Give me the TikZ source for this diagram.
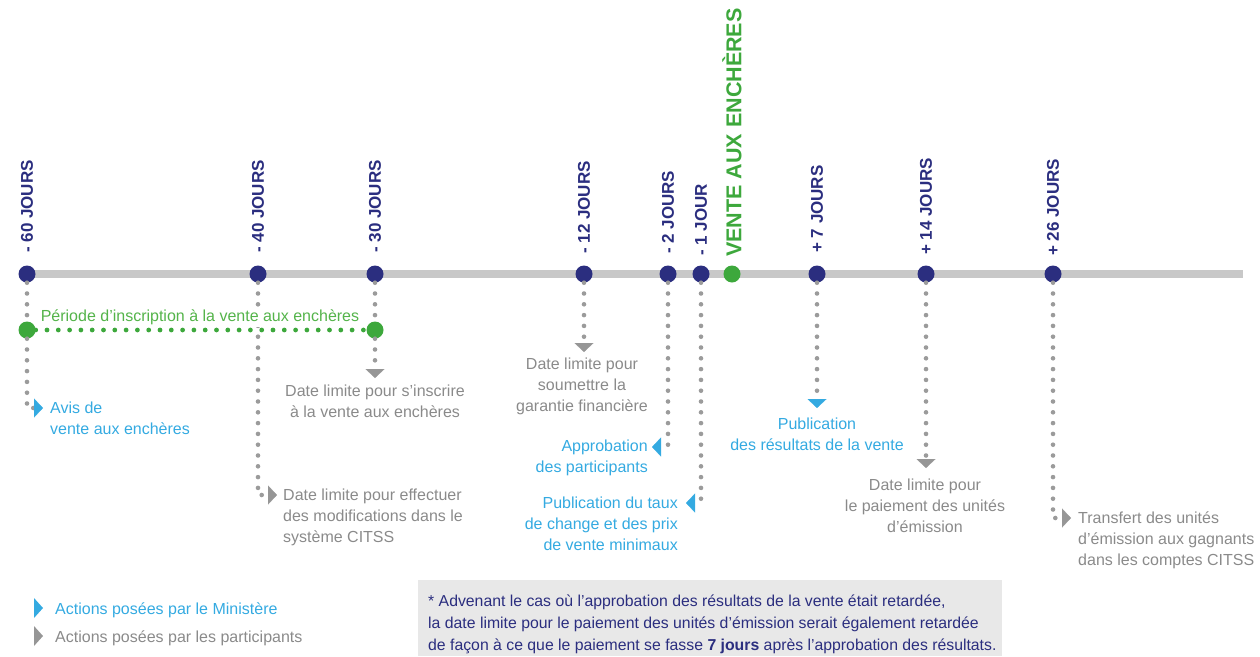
\documentclass[tikz,border=0pt]{standalone}
\usepackage{fontspec}
\setmainfont{Liberation Sans}
\usetikzlibrary{arrows.meta}
\definecolor{navy}{RGB}{43,46,127}
\definecolor{vgreen}{RGB}{61,168,60}
\definecolor{lgreen}{RGB}{84,180,74}
\definecolor{lblue}{RGB}{52,170,225}
\definecolor{tgray}{RGB}{138,138,138}
\definecolor{agray}{RGB}{150,150,150}
\definecolor{dgray}{RGB}{155,155,155}
\definecolor{lgray}{RGB}{200,200,200}
\definecolor{boxgray}{RGB}{232,232,232}
\newcommand{\bodyfs}{\fontsize{16}{21}\selectfont}
\newcommand{\notefs}{\fontsize{15.8}{22}\selectfont}
\newcommand{\dayfs}{\fontsize{17}{20}\selectfont\bfseries}
\newcommand{\ventefs}{\fontsize{21.5}{24}\selectfont\bfseries}
\begin{document}
\begin{tikzpicture}[x=1pt,y=-1pt,
  evdot/.style={circle,fill=navy,minimum size=17pt,inner sep=0pt},
  grdot/.style={circle,fill=vgreen,minimum size=17pt,inner sep=0pt},
  daylab/.style={rotate=90,anchor=west,inner sep=0pt,font=\dayfs,text=navy},
  gdots/.style={draw=dgray,line width=4.6pt,line cap=round,dash pattern=on 0pt off 10.8pt},
  grline/.style={draw=vgreen,line width=4.8pt,line cap=round,dash pattern=on 0pt off 11.3pt},
  tipG/.style={-{Triangle[length=9pt,width=19pt,line width=0.1pt,color=agray]}},
  tipB/.style={-{Triangle[length=9pt,width=19pt,line width=0.1pt,color=lblue]}},
  txt/.style={font=\bodyfs,inner sep=0pt},
  bluetxt/.style={txt,text=lblue},
  graytxt/.style={txt,text=tgray}
]
\useasboundingbox (0,0) rectangle (1260,656);

% timeline
\coordinate (tlA) at (20,274);
\coordinate (tlB) at (1243,274);
\draw[line width=8pt,lgray] (tlA) -- (tlB);

% event dots
\node[evdot] (d60) at (27,274) {};
\node[evdot] (d40) at (258,274) {};
\node[evdot] (d30) at (375,274) {};
\node[evdot] (d12) at (584,274) {};
\node[evdot] (d2) at (668,274) {};
\node[evdot] (d1) at (701,274) {};
\node[grdot] (dV) at (732,274) {};
\node[evdot] (d7) at (817,274) {};
\node[evdot] (d14) at (926,274) {};
\node[evdot] (d26) at (1053,274) {};

% day labels
\node[daylab] (l60) at (27,253) {- 60 JOURS};
\node[daylab] (l40) at (258,253) {- 40 JOURS};
\node[daylab] (l30) at (375,253) {- 30 JOURS};
\node[daylab] (l12) at (584,254) {- 12 JOURS};
\node[daylab] (l2) at (668,254) {- 2 JOURS};
\node[daylab] (l1) at (701,256) {- 1 JOUR};
\node[daylab,font=\ventefs,text=vgreen] (lV) at (732,257) {VENTE AUX ENCHÈRES};
\node[daylab] (l7) at (817,253) {+ 7 JOURS};
\node[daylab] (l14) at (926,255) {+ 14 JOURS};
\node[daylab] (l26) at (1053,256) {+ 26 JOURS};

% registration period dots
\node[grdot] (g60) at (27,330) {};
\node[grdot] (g30) at (375,330) {};

% arrow end points
\coordinate (e60) at (43,408);
\coordinate (e40) at (277,495);
\coordinate (e30) at (375,378);
\coordinate (e12) at (584,352);
\coordinate (e2) at (652,447);
\coordinate (e1) at (686,503);
\coordinate (e7) at (817,408);
\coordinate (e14) at (926,468);
\coordinate (e26) at (1071,518);

% connectors
\draw[gdots] (d60) -- (g60);
\draw[gdots,tipB] (g60) |- (e60);
\draw[gdots,tipG] (d40) |- (e40);
\draw[gdots] (d30) -- (g30);
\draw[gdots,tipG] (g30) -- (e30);
\draw[gdots,tipG] (d12) -- (e12);
\draw[gdots,tipB] (d2) |- (e2);
\draw[gdots,tipB] (d1) |- (e1);
\draw[gdots,tipB] (d7) -- (e7);
\draw[gdots,tipG] (d14) -- (e14);
\draw[gdots,tipG] (d26) |- (e26);

% registration period line and label (over the -40 connector)
\draw[grline] (g60) -- (g30);
\node[txt,text=lgreen,anchor=base,fill=white,inner ysep=2pt] (period) at (200,321.5) {Période d'inscription à la vente aux enchères};

% texts
\node[bluetxt,align=left,anchor=north west] (t60) at (50,402) {Avis de\\vente aux enchères};
\node[graytxt,align=left,anchor=north west] (t40) at (283,489) {Date limite pour effectuer\\des modifications dans le\\système CITSS};
\node[graytxt,align=center,anchor=north] (t30) at (375,385) {Date limite pour s'inscrire\\à la vente aux enchères};
\node[graytxt,align=center,anchor=north] (t12) at (582,358) {Date limite pour\\soumettre la\\garantie financière};
\node[bluetxt,align=right,anchor=north east] (t2) at (648,440) {Approbation\\des participants};
\node[bluetxt,align=right,anchor=north east] (t1) at (678,497) {Publication du taux\\de change et des prix\\de vente minimaux};
\node[bluetxt,align=center,anchor=north] (t7) at (817,418) {Publication\\des résultats de la vente};
\node[graytxt,align=center,anchor=north] (t14) at (925,479) {Date limite pour\\le paiement des unités\\d'émission};
\node[graytxt,align=left,anchor=north west] (t26) at (1078,512) {Transfert des unités\\d'émission aux gagnants\\dans les comptes CITSS};

% legend
\fill[lblue] (34,598) -- (43,608) -- (34,618) -- cycle;
\node[bluetxt,anchor=base west] (kB) at (55,614.5) {Actions posées par le Ministère};
\fill[agray] (34,626) -- (43,636) -- (34,646) -- cycle;
\node[graytxt,anchor=base west] (kG) at (55,642) {Actions posées par les participants};

% footnote
\fill[boxgray] (418,580) rectangle (1002,656);
\node[font=\notefs,text=navy,align=left,anchor=north west,inner sep=0pt] (note) at (428,595) {* Advenant le cas où l'approbation des résultats de la vente était retardée,\\la date limite pour le paiement des unités d'émission serait également retardée\\de façon à ce que le paiement se fasse \textbf{7 jours} après l'approbation des résultats.};
\end{tikzpicture}
\end{document}
